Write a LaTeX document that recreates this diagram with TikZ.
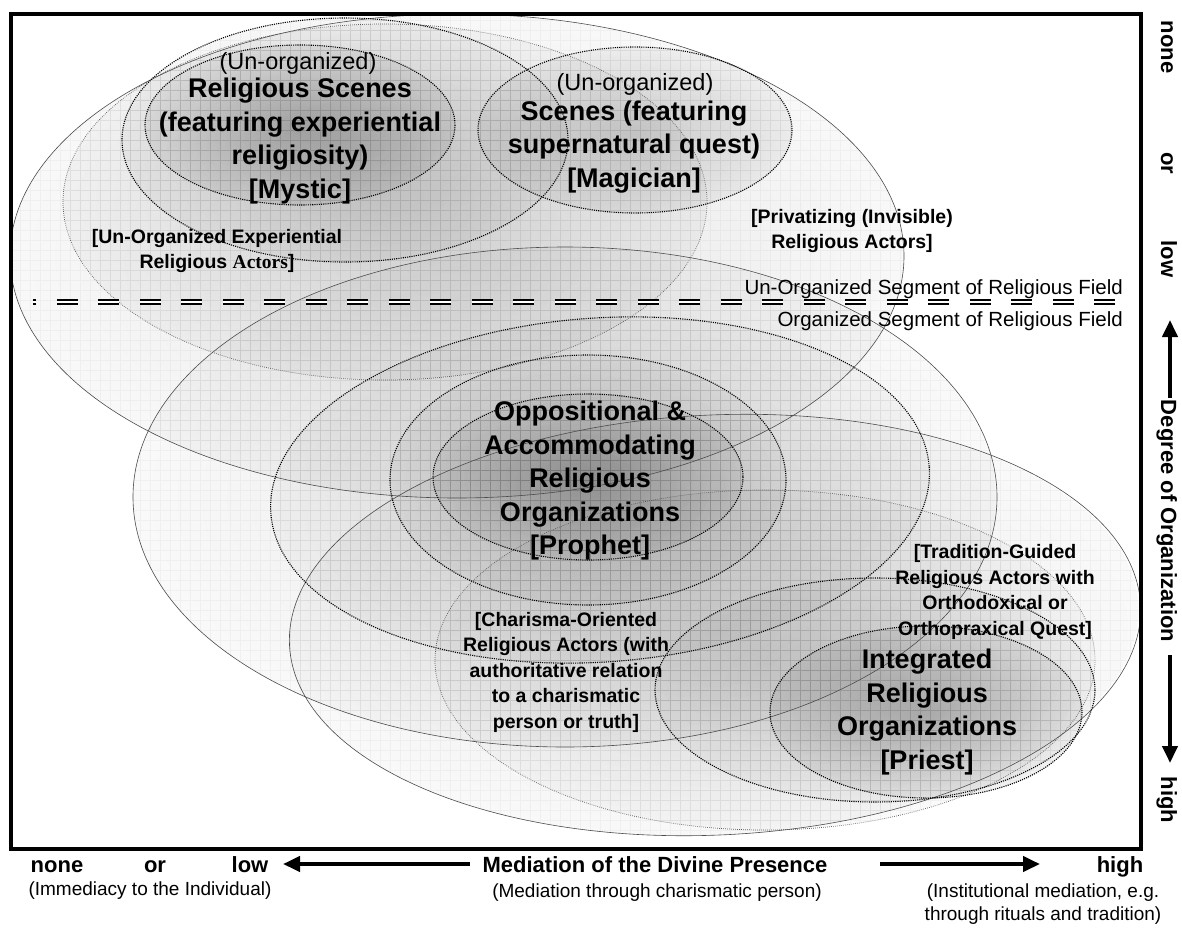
\documentclass[tikz,border=0pt]{standalone}
\usepackage{fontspec}
\setmainfont{Liberation Sans}
\newfontfamily\serifbf{Liberation Serif}
\usetikzlibrary{arrows.meta,fadings}
\tikzfading[name=rfade, inner color=transparent!0, outer color=transparent!75]
\newcommand\fsz[2]{\fontsize{#1}{#2}\selectfont}
\newcommand\blobfill[6]{%
  \fill[black, fill opacity=#6, path fading=rfade, fit fading=true, shift={(#1,#2)}, rotate=#5] (0,0) ellipse [x radius=#3, y radius=#4];
  \begin{scope}
    \clip[shift={(#1,#2)}, rotate=#5] (0,0) ellipse [x radius=#3, y radius=#4];
    \draw[gridln] (0,0) grid[step=10pt] (1182,945);
  \end{scope}}
\newcommand\blobline[6]{%
  \draw[#6, shift={(#1,#2)}, rotate=#5] (0,0) ellipse [x radius=#3, y radius=#4];}
\begin{document}
\begin{tikzpicture}[x=1pt,y=-1pt,
  gridln/.style={black, line width=0.35pt, draw opacity=0.035},
  solidln/.style={draw=black!70, line width=0.6pt},
  finedot/.style={draw=black!65, line width=0.7pt, dash pattern=on 0.7pt off 1.3pt},
  bolddot/.style={draw=black, line width=1.1pt, dash pattern=on 1.1pt off 1.1pt},
  bigtxt/.style={font=\bfseries\fsz{27}{33.5}, align=center, inner sep=0pt},
  unorg/.style={font=\fsz{23.5}{28}, inner sep=0pt},
  smalltxt/.style={font=\bfseries\fsz{19.5}{25.5}, align=center, inner sep=0pt},
  segtxt/.style={font=\fsz{20.5}{24}, inner sep=0pt, anchor=base east},
  axbold/.style={font=\bfseries\fsz{22}{26}, inner sep=0pt, anchor=base},
  axsub/.style={font=\fsz{19}{22.5}, align=center, inner sep=0pt},
  axarrow/.style={line width=4pt, -{Triangle[length=17pt, width=15pt]}},
  frame/.style={line width=3.8pt}
]
\useasboundingbox (0,0) rectangle (1182,945);
\fill[white] (0,0) rectangle (1182,945);

% ---------- fills and grids ----------
\blobfill{457}{256}{447}{242}{0}{0.10}
\blobfill{565}{497}{432}{250}{0}{0.09}
\blobfill{715}{625}{426}{210}{2.7}{0.09}
\blobfill{385}{202}{322}{178}{0}{0.10}
\blobfill{600}{490}{330}{172}{4}{0.09}
\blobfill{765}{660}{330}{170}{0}{0.08}
\blobfill{875}{690}{220}{112}{0}{0.10}
\blobfill{345}{140}{223}{122}{0}{0.12}
\blobfill{635}{130}{157}{83}{0}{0.16}
\blobfill{588}{480}{198}{125}{0}{0.12}
\blobfill{300}{125}{155}{80}{0}{0.20}
\blobfill{588}{477}{155}{83}{0}{0.18}
\blobfill{926}{712}{156}{86}{0}{0.20}

% ---------- outlines ----------
\blobline{457}{256}{447}{242}{0}{solidln}
\blobline{565}{497}{432}{250}{0}{solidln}
\blobline{715}{625}{426}{210}{2.7}{solidln}
\blobline{385}{202}{322}{178}{0}{finedot}
\blobline{600}{490}{330}{172}{4}{bolddot}
\blobline{765}{660}{330}{170}{0}{finedot}
\blobline{875}{690}{220}{112}{0}{bolddot}
\blobline{345}{140}{223}{122}{0}{bolddot}
\blobline{635}{130}{157}{83}{0}{bolddot}
\blobline{588}{480}{198}{125}{0}{bolddot}
\blobline{300}{125}{155}{80}{0}{bolddot}
\blobline{588}{477}{155}{83}{0}{bolddot}
\blobline{926}{712}{156}{86}{0}{bolddot}

% ---------- frame ----------
\draw[frame] (11,14) rectangle (1141,849);

% ---------- double dashed separator ----------
\coordinate (sepR) at (1115,302);
\coordinate (sepL) at (33,302);
\draw[line width=2pt, double distance=2pt, dash pattern=on 21pt off 20.5pt] (sepR) -- (sepL);
\node[segtxt] (useg) at (1123,294) {Un-Organized Segment of Religious Field};
\node[segtxt] (oseg) at (1123,326) {Organized Segment of Religious Field};

% ---------- texts in ellipses ----------
\node[unorg] (mysU) at (298,63) {(Un-organized)};
\node[bigtxt] (mys) at (300,141) {Religious Scenes\\(featuring experiential\\religiosity)\\{[Mystic]}};
\node[unorg] (magU) at (635,84) {(Un-organized)};
\node[bigtxt] (mag) at (634,147) {Scenes (featuring\\supernatural quest)\\{[Magician]}};
\node[smalltxt] (uoe) at (217,251) {[Un-Organized Experiential\\Religious {\serifbf Actors}]};
\node[smalltxt] (priv) at (852,231) {[Privatizing (Invisible)\\Religious Actors]};
\node[bigtxt] (pro) at (590,481) {Oppositional \&\\Accommodating\\Religious\\Organizations\\{[Prophet]}};
\node[smalltxt] (cha) at (566,672) {[Charisma-Oriented\\Religious Actors (with\\authoritative relation\\to a charismatic\\person or truth]};
\node[smalltxt] (tra) at (995,592) {[Tradition-Guided\\Religious Actors with\\Orthodoxical or\\Orthopraxical Quest]};
\node[bigtxt] (pri) at (927,712) {Integrated\\Religious\\Organizations\\{[Priest]}};

% ---------- vertical axis ----------
\node[axbold, rotate=-90] (vnone) at (1161,47) {none};
\node[axbold, rotate=-90] (vor) at (1161,163) {or};
\node[axbold, rotate=-90] (vlow) at (1161,259) {low};
\coordinate (uaT) at (1170,320);
\coordinate (uaB) at (1170,398);
\draw[axarrow] (uaB) -- (uaT);
\node[axbold, rotate=-90] (vdeg) at (1161,521) {Degree of Organization};
\coordinate (daT) at (1170,655);
\coordinate (daB) at (1170,763);
\draw[axarrow] (daT) -- (daB);
\node[axbold, rotate=-90] (vhigh) at (1161,800) {high};

% ---------- horizontal axis ----------
\node[axbold] (hnone) at (57,872) {none};
\node[axbold] (hor) at (155,872) {or};
\node[axbold] (hlow) at (250,872) {low};
\node[axsub] (himm) at (150,891) {(Immediacy to the Individual)};
\coordinate (laT) at (470,864);
\coordinate (laH) at (283,864);
\draw[axarrow] (laT) -- (laH);
\node[axbold] (hmed) at (655,872) {Mediation of the Divine Presence};
\node[axsub] (hcha) at (657,893) {(Mediation through charismatic person)};
\coordinate (raT) at (880,864);
\coordinate (raH) at (1040,864);
\draw[axarrow] (raT) -- (raH);
\node[axbold] (hhigh) at (1120,872) {high};
\node[axsub] (hins) at (1043,904) {(Institutional mediation, e.g.\\through rituals and tradition)};
\end{tikzpicture}
\end{document}
